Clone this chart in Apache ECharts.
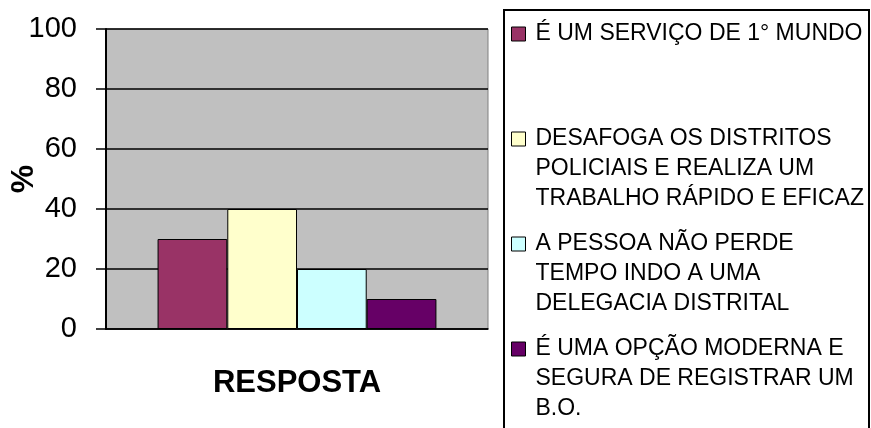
<!DOCTYPE html>
<html>
<head>
<meta charset="utf-8">
<script src="https://cdn.jsdelivr.net/npm/echarts@6/dist/echarts.min.js"></script>
<style>
    html, body { margin: 0; padding: 0; background: #fff; }
    #chart { width: 871px; height: 428px; }
</style>
</head>
<body>
<div id="chart"></div>
<script>
// dados do gráfico
var categorias = [''];
var nomes = [
    'É UM SERVIÇO DE 1° MUNDO',
    'DESAFOGA OS DISTRITOS POLICIAIS E REALIZA UM TRABALHO RÁPIDO E EFICAZ',
    'A PESSOA NÃO PERDE TEMPO INDO A UMA DELEGACIA DISTRITAL',
    'É UMA OPÇÃO MODERNA E SEGURA DE REGISTRAR UM B.O.'
];
var linhasLegenda = [
    ['É UM SERVIÇO DE 1° MUNDO', '', ''],
    ['DESAFOGA OS DISTRITOS', 'POLICIAIS E REALIZA UM', 'TRABALHO RÁPIDO E EFICAZ'],
    ['A PESSOA NÃO PERDE', 'TEMPO INDO A UMA', 'DELEGACIA DISTRITAL'],
    ['É UMA OPÇÃO MODERNA E', 'SEGURA DE REGISTRAR UM', 'B.O.']
];
var valores = [30, 40, 20, 10];
var cores = ['#993366', '#FFFFCC', '#CCFFFF', '#660066'];
var yTicks = [0, 20, 40, 60, 80, 100];

var chart = echarts.init(document.getElementById('chart'));

var series = [];
for (var i = 0; i < nomes.length; i++) {
    series.push({
        name: nomes[i],
        type: 'bar',
        data: [valores[i]],
        barGap: 0,
        barCategoryGap: '27%',
        itemStyle: {
            color: cores[i],
            borderColor: '#000',
            borderWidth: 1
        },
        emphasis: { disabled: true }
    });
}

var option = {
    animation: false,
    textStyle: { fontFamily: 'Liberation Sans, Arial, sans-serif' },
    grid: {
        left: 106,
        top: 29,
        right: 383,
        bottom: 99,
        outerBoundsMode: 'none',
        containLabel: false,
        show: true,
        backgroundColor: '#C0C0C0',
        borderColor: '#808080',
        borderWidth: 1
    },
    legend: {
        orient: 'vertical',
        left: 511,
        top: -41,
        padding: 0,
        itemGap: -45,
        itemWidth: 14,
        itemHeight: 14,
        selectedMode: false,
        icon: 'rect',
        itemStyle: { borderColor: '#000', borderWidth: 1 },
        textStyle: {
            fontFamily: 'Liberation Sans, Arial, sans-serif',
            fontSize: 23,
            lineHeight: 30,
            color: '#000',
            padding: [0, 0, 0, 5]
        },
        formatter: function (name) {
            var idx = nomes.indexOf(name);
            // duas linhas vazias antes para alinhar o ícone com a primeira linha
            return '\n\n' + linhasLegenda[idx].join('\n');
        },
        data: nomes
    },
    graphic: [{
        type: 'rect',
        shape: { x: 504, y: 10, width: 365, height: 430 },
        style: { fill: 'none', stroke: '#000', lineWidth: 2 },
        silent: true
    }],
    xAxis: {
        type: 'category',
        data: categorias,
        name: 'RESPOSTA',
        nameLocation: 'middle',
        nameGap: 39,
        nameMoveOverlap: false,
        nameTextStyle: {
            fontFamily: 'Liberation Sans, Arial, sans-serif',
            fontSize: 31,
            fontWeight: 'bold',
            color: '#000'
        },
        axisLine: { show: true, lineStyle: { color: '#000', width: 1.5 } },
        axisTick: { show: false },
        axisLabel: { show: false },
        splitLine: { show: false }
    },
    yAxis: {
        type: 'value',
        min: yTicks[0],
        max: yTicks[yTicks.length - 1],
        interval: 20,
        name: '%',
        nameLocation: 'middle',
        nameRotate: 90,
        nameGap: 66,
        nameMoveOverlap: false,
        nameTextStyle: {
            fontFamily: 'Liberation Sans, Arial, sans-serif',
            fontSize: 32,
            fontWeight: 'bold',
            color: '#000'
        },
        axisLine: { show: true, lineStyle: { color: '#000', width: 2 } },
        axisTick: { show: true, length: 10, lineStyle: { color: '#000', width: 1.5 } },
        axisLabel: {
            margin: 29,
            fontSize: 29,
            color: '#000',
            fontFamily: 'Liberation Sans, Arial, sans-serif'
        },
        splitLine: { show: true, lineStyle: { color: '#000', width: 1.5 } }
    },
    series: series
};

chart.setOption(option);
</script>
</body>
</html>
